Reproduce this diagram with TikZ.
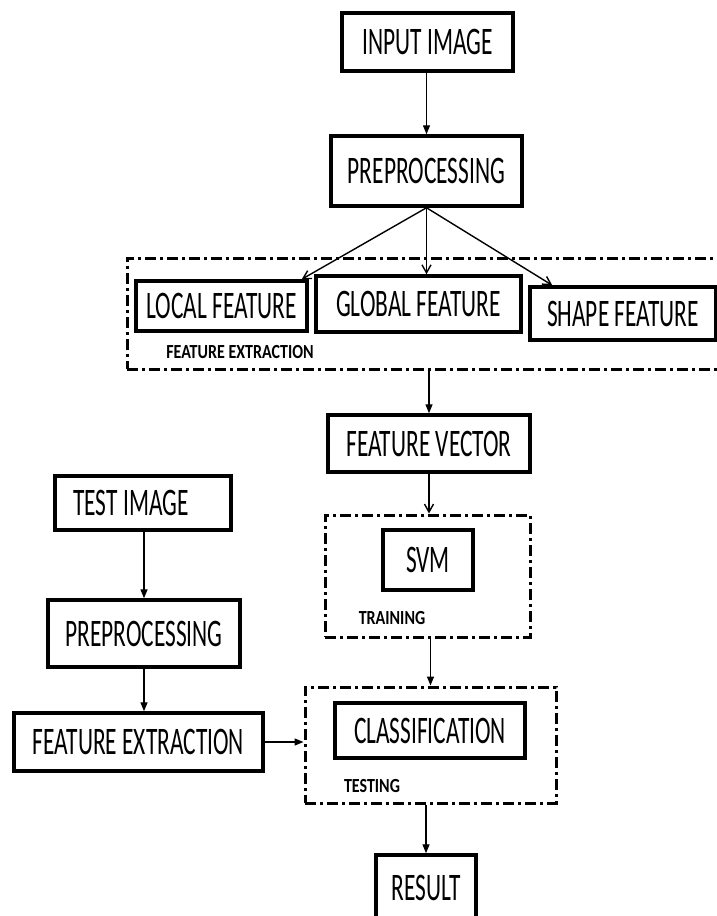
\documentclass[tikz,border=0pt]{standalone}
\usepackage{fontspec}
\setmainfont{Carlito}[FakeStretch=0.6]
\newfontfamily\labfont{Carlito}[FakeStretch=0.8]
\usetikzlibrary{arrows.meta}
\begin{document}
\begin{tikzpicture}[x=1pt,y=-1pt,
 box/.style={draw, line width=3.5pt, inner sep=0pt, fill=white, font=\fontsize{39}{39}\selectfont},
 grp/.style={draw, line width=3pt, inner sep=0pt, dash pattern=on 11pt off 4pt on 3pt off 4pt},
 lab/.style={font=\labfont\bfseries\fontsize{20}{20}\selectfont, inner sep=0pt},
 arr/.style={line width=1.4pt, -{Triangle[length=9pt,width=7pt]}},
 arro/.style={line width=1.4pt, -{Straight Barb[length=8pt,width=9pt]}},
]
\useasboundingbox[fill=white] (0,0) rectangle (717,916);

% groups
\node[grp, minimum width=619pt, minimum height=111pt] (fex) at (436.5,313.5) {};
\node[grp, minimum width=205pt, minimum height=122pt] (traing) at (427.5,576) {};
\node[grp, minimum width=251pt, minimum height=116pt] (testg) at (430.5,745) {};

% main column
\node[box, minimum width=171pt, minimum height=58pt] (input) at (427.5,42) {INPUT IMAGE};
\node[box, minimum width=191pt, minimum height=70pt] (pre1) at (426.5,171) {PREPROCESSING};
\node[box, minimum width=171pt, minimum height=50pt] (local) at (221.5,306) {LOCAL FEATURE};
\node[box, minimum width=205pt, minimum height=56pt] (global) at (418.5,304) {GLOBAL FEATURE};
\node[box, minimum width=186pt, minimum height=53pt] (shape) at (623,313.5) {SHAPE FEATURE};
\node[lab] (fexlab) at (240,352.5) {FEATURE EXTRACTION};
\node[box, minimum width=202pt, minimum height=57pt] (fv) at (429,443.5) {FEATURE VECTOR};
\node[box, minimum width=90pt, minimum height=60pt] (svm) at (428,560) {SVM};
\node[lab] (trainlab) at (392,618) {TRAINING};
\node[box, minimum width=190pt, minimum height=55pt] (class) at (430,730.5) {CLASSIFICATION};
\node[lab] (testlab) at (372,786) {TESTING};
\node[box, minimum width=100pt, minimum height=66pt] (result) at (426,888) {RESULT};

% left column
\node[box, minimum width=176pt, minimum height=54pt] (test) at (143,503) {\hspace*{-24pt}TEST IMAGE};
\node[box, minimum width=192pt, minimum height=67pt] (pre2) at (144,633.5) {PREPROCESSING};
\node[box, minimum width=249pt, minimum height=58pt] (fe2) at (138.5,742) {FEATURE EXTRACTION};

% connectors
\draw[arr] (input.south -| pre1.south) -- (pre1.north);
\draw[arro] (pre1.south) -- ([xshift=-7pt]local.north east);
\draw[arro] (pre1.south) -- (pre1.south |- global.north);
\draw[arro] (pre1.south) -- ([xshift=24pt]shape.north west);
\draw[arr] (fv.north |- fex.south) -- (fv.north);
\draw[arro] (fv.south) -- (fv.south |- traing.north);
\draw[arr] ([xshift=3pt]traing.south) -- ([xshift=3pt]traing.south |- testg.north);
\draw[arr] (result.north |- testg.south) -- (result.north);
\draw[arr] (test.south -| pre2.south) -- (pre2.north);
\draw[arr] (pre2.south) -- (fe2.north -| pre2.south);
\draw[arr] (fe2.east) -- (fe2.east -| testg.west);
\end{tikzpicture}
\end{document}
